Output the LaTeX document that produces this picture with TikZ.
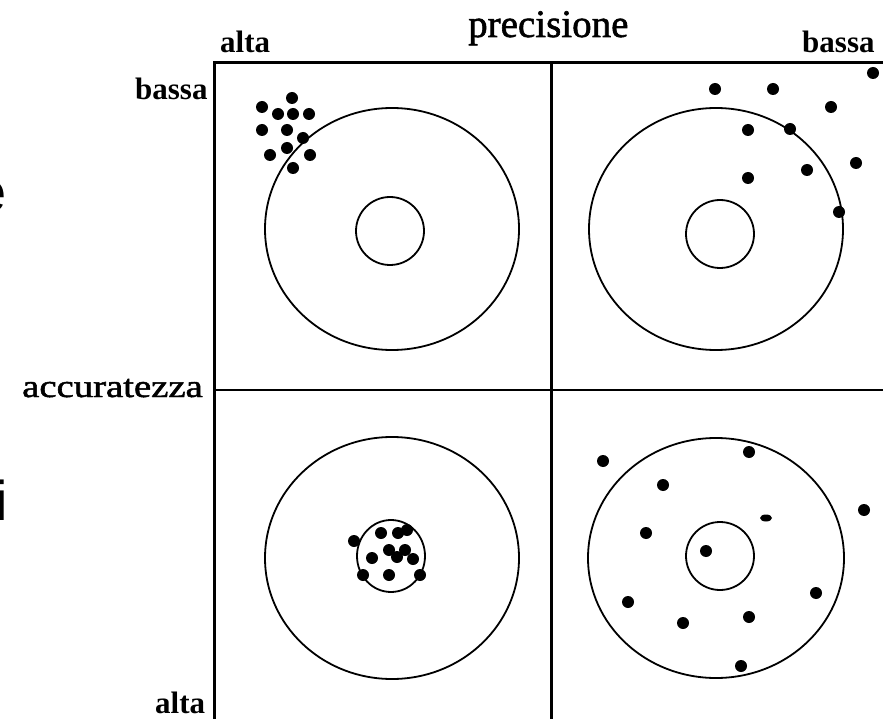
\documentclass[tikz,border=0pt]{standalone}
\usepackage{fontspec}
\setmainfont{Liberation Serif}
\newfontfamily\heavyserif[FakeBold=1.5]{Liberation Serif}
\newfontfamily\cutfont{Liberation Sans}
\begin{document}
\begin{tikzpicture}[x=1pt,y=-1pt,
  frame/.style={line width=3pt},
  midline/.style={line width=2.2pt},
  ring/.style={line width=1.8pt},
  shot/.style={fill=black},
  lbl/.style={inner sep=0pt,anchor=base west,font=\bfseries\fontsize{31}{32}\selectfont},
  cut/.style={inner sep=0pt,anchor=base east,font=\cutfont\fontsize{56}{58}\selectfont}]
\useasboundingbox (0,0) rectangle (883,719);
\fill[white] (0,0) rectangle (883,719);
% frame
\draw[frame] (214,719) -- (214,63) -- (883,63);
\draw[frame] (551,63) -- (551,719);
\draw[midline] (214,390) -- (883,390);
% labels
\node[inner sep=0pt,anchor=base west,font=\heavyserif\fontsize{39}{40}\selectfont] (prec) at (468,37) {precisione};
\node[lbl] (topalta) at (220,53) {alta};
\node[lbl] (topbassa) at (802,53) {bassa};
\node[lbl] (leftbassa) at (135,100) {bassa};
\node[inner sep=0pt,anchor=base west,xscale=1.21,font=\heavyserif\fontsize{32}{33}\selectfont] (acc) at (22,397) {accuratezza};
\node[lbl] (botalta) at (155,713) {alta};
\node[cut] (cute) at (7,212) {e};
\node[cut] (cuti) at (8,520) {i};
% targets
\draw[ring] (392,229) ellipse [x radius=127, y radius=121];
\draw[ring] (390,231) circle [radius=34];
\draw[ring] (716,229) ellipse [x radius=127, y radius=121];
\draw[ring] (720,234) circle [radius=34];
\draw[ring] (392,558) ellipse [x radius=127, y radius=121];
\draw[ring] (391,556) ellipse [x radius=34, y radius=36];
\draw[ring] (716,558) ellipse [x radius=128, y radius=120];
\draw[ring] (720,556) circle [radius=34];
% shots: top-left
\foreach \p in {(262,107),(292,98),(278,114),(293,114),(309,114),(262,130),(287,130),(303,138),(287,148),(270,155),(310,155),(293,168)}
  \fill[shot] \p circle [radius=6];
% shots: top-right
\foreach \p in {(715,89),(773,89),(873,73),(831,107),(748,130),(790,129),(856,163),(807,170),(748,178),(839,212)}
  \fill[shot] \p circle [radius=6];
% shots: bottom-left
\foreach \p in {(354,541),(381,533),(398,533),(407,530),(389,550),(405,550),(397,557),(413,559),(372,558),(363,575),(389,575),(420,575)}
  \fill[shot] \p circle [radius=6];
% shots: bottom-right
\foreach \p in {(603,461),(749,452),(663,485),(864,510),(706,551),(646,533),(628,602),(816,593),(683,623),(749,617),(741,666)}
  \fill[shot] \p circle [radius=6];
\fill[shot] (766,518) ellipse [x radius=6, y radius=3.5];
\end{tikzpicture}
\end{document}
